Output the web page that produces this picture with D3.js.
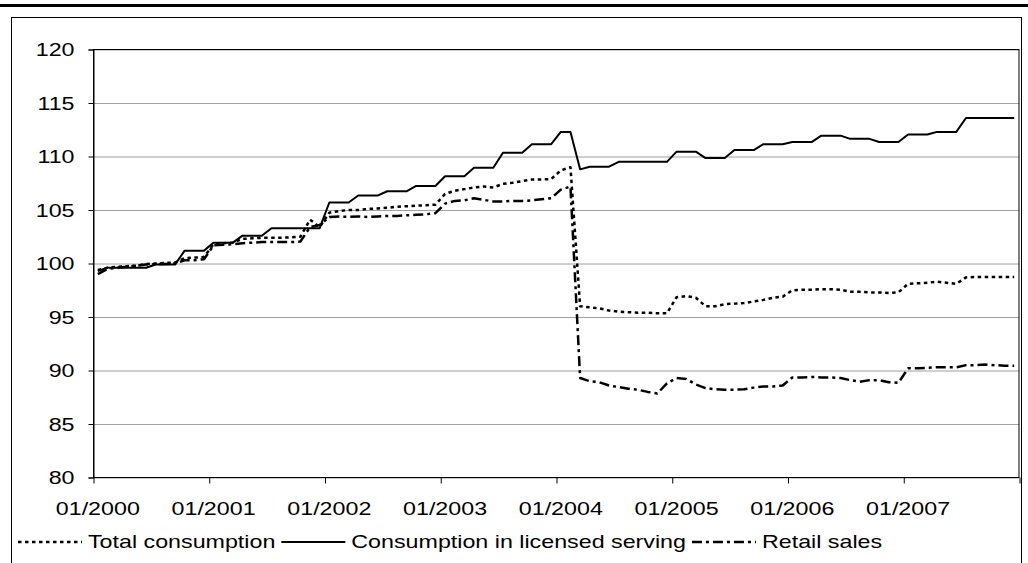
<!DOCTYPE html>
<html>
<head>
<meta charset="utf-8">
<script src="https://cdn.jsdelivr.net/npm/d3@7"></script>
<style>
  body { margin: 0; background: #fff; }
  svg { display: block; }
  text { font-family: "Liberation Sans", Arial, sans-serif; fill: #000; }
</style>
</head>
<body>
<svg id="chart" width="1028" height="563"></svg>
<script>
// monthly index values, 01/2000 .. 12/2007
var tickLabels = ["01/2000", "01/2001", "01/2002", "01/2003", "01/2004", "01/2005", "01/2006", "01/2007"];
var yTicks = [80, 85, 90, 95, 100, 105, 110, 115, 120];
var seriesNames = ["Total consumption", "Consumption in licensed serving", "Retail sales"];

var totalConsumption = [
  99.4, 99.6, 99.7, 99.75, 99.8, 99.95, 100.0, 100.05, 100.1, 100.5, 100.55, 100.6,
  101.8, 101.9, 101.95, 102.3, 102.35, 102.4, 102.4, 102.4, 102.45, 102.5, 104.1, 103.4,
  104.75, 104.9, 105.0, 105.0, 105.1, 105.15, 105.2, 105.3, 105.35, 105.4, 105.45, 105.5,
  106.5, 106.8, 106.95, 107.1, 107.2, 107.1, 107.45, 107.55, 107.7, 107.85, 107.85, 107.9,
  108.7, 109.0, 96.0, 95.9, 95.8, 95.6, 95.5, 95.45, 95.4, 95.4, 95.35, 95.35,
  96.85, 96.95, 96.8, 96.0, 96.0, 96.2, 96.25, 96.3, 96.45, 96.6, 96.8, 96.9,
  97.5, 97.55, 97.55, 97.6, 97.6, 97.55, 97.35, 97.35, 97.3, 97.3, 97.25, 97.3,
  98.1, 98.15, 98.2, 98.3, 98.2, 98.1, 98.7, 98.75, 98.75, 98.75, 98.75, 98.75
];
var licensedServing = [
  99.3, 99.6, 99.6, 99.6, 99.6, 99.6, 99.9, 99.9, 99.9, 101.2, 101.2, 101.2,
  101.95, 101.95, 101.95, 102.6, 102.6, 102.6, 103.3, 103.3, 103.3, 103.3, 103.3, 103.3,
  105.7, 105.7, 105.7, 106.35, 106.35, 106.35, 106.75, 106.75, 106.75, 107.25, 107.25, 107.25,
  108.15, 108.15, 108.15, 108.95, 108.95, 108.95, 110.35, 110.35, 110.35, 111.15, 111.15, 111.15,
  112.3, 112.3, 108.8, 109.05, 109.05, 109.05, 109.5, 109.5, 109.5, 109.5, 109.5, 109.5,
  110.45, 110.45, 110.45, 109.85, 109.85, 109.85, 110.6, 110.6, 110.6, 111.15, 111.15, 111.15,
  111.35, 111.35, 111.35, 111.95, 111.95, 111.95, 111.65, 111.65, 111.65, 111.35, 111.35, 111.35,
  112.05, 112.05, 112.05, 112.3, 112.3, 112.3, 113.6, 113.6, 113.6, 113.6, 113.6, 113.6
];
var retailSales = [
  99.0, 99.5, 99.6, 99.7, 99.8, 99.9, 99.95, 99.95, 100.0, 100.3, 100.3, 100.4,
  101.7, 101.75, 101.8, 101.9, 101.95, 102.0, 102.0, 102.0, 102.0, 102.05, 103.4, 103.6,
  104.35, 104.4, 104.35, 104.4, 104.35, 104.4, 104.45, 104.45, 104.5, 104.55, 104.6, 104.7,
  105.6, 105.85, 105.9, 106.1, 105.95, 105.8, 105.8, 105.85, 105.85, 105.9, 106.0, 106.1,
  106.9, 107.2, 89.3, 89.0, 88.9, 88.6, 88.45, 88.3, 88.2, 88.0, 87.85, 88.8,
  89.3, 89.2, 88.7, 88.35, 88.25, 88.2, 88.2, 88.25, 88.4, 88.5, 88.5, 88.6,
  89.35, 89.35, 89.4, 89.35, 89.35, 89.3, 89.1, 88.95, 89.1, 89.1, 88.9, 88.85,
  90.2, 90.2, 90.25, 90.3, 90.3, 90.3, 90.5, 90.5, 90.55, 90.5, 90.45, 90.45
];

var fontSize = 18.6;
var stretch = 1.25;  // the picture's text is wider than plain Arial

var plot = {left: 93, right: 1019, top: 49.5, bottom: 477.5};

var fmt = d3.timeFormat("%m/%Y");
var months = d3.timeMonths(new Date(2000, 0, 1), new Date(2008, 0, 1)).map(fmt);

var x = d3.scaleBand()
  .domain(months)
  .range([plot.left, plot.right]);

var y = d3.scaleLinear()
  .domain([80, 120])
  .range([plot.bottom, plot.top]);

var xc = d => x(d) + x.bandwidth() / 2;

var svg = d3.select('#chart');

// outer frame
svg.append('line')
  .attr('x1', 0).attr('x2', 1028)
  .attr('y1', 5.5).attr('y2', 5.5)
  .attr('stroke', '#000')
  .attr('stroke-width', 3);

svg.append('rect')
  .attr('x', 11.5).attr('y', 17.5)
  .attr('width', 1010).attr('height', 570)
  .attr('fill', 'none')
  .attr('stroke', '#000');

// gridlines
svg.append('g')
  .attr('transform', `translate(${plot.left},0)`)
  .call(d3.axisLeft(y).tickValues(yTicks).tickSize(-(plot.right - plot.left)).tickFormat(''))
  .call(g => g.select('.domain').remove())
  .call(g => g.selectAll('line').attr('stroke', '#a0a0a0'));

// plot border
svg.append('rect')
  .attr('x', plot.left + 0.5).attr('y', plot.top)
  .attr('width', plot.right - plot.left - 0.5).attr('height', plot.bottom - plot.top)
  .attr('fill', 'none')
  .attr('stroke', '#000');

// y axis ticks + labels
svg.append('g')
  .attr('transform', `translate(${plot.left + 0.5},0)`)
  .call(d3.axisLeft(y).tickValues(yTicks).tickSize(5).tickFormat(''))
  .call(g => g.select('.domain').attr('stroke', '#000'));

svg.append('g').selectAll('text')
  .data(yTicks)
  .enter().append('text')
    .attr('transform', d => `translate(74.5,${y(d)}) scale(${stretch},1)`)
    .attr('text-anchor', 'end')
    .attr('dy', '0.35em')
    .style('font-size', fontSize + 'px')
    .text(d => d);

// x axis: ticks on the year boundaries, labels centred on the january category
var yearEdges = d3.scaleLinear().domain([0, months.length]).range([plot.left, plot.right]);

svg.append('g')
  .attr('transform', `translate(0,${plot.bottom})`)
  .call(d3.axisBottom(yearEdges).tickValues(d3.range(0, months.length + 1, 12)).tickSize(6).tickFormat(''))
  .call(g => g.select('.domain').remove())
  .call(g => g.selectAll('line').attr('stroke', '#000').attr('transform', 'translate(0.5,0)'));

svg.append('g').selectAll('text')
  .data(tickLabels)
  .enter().append('text')
    .attr('transform', d => `translate(${xc(d)},515) scale(${stretch},1)`)
    .attr('text-anchor', 'middle')
    .style('font-size', fontSize + 'px')
    .text(d => d);

// lines
var series = [
  {name: seriesNames[0], values: totalConsumption, dash: '3.5,3.5', width: 2.5},
  {name: seriesNames[1], values: licensedServing, dash: null, width: 2},
  {name: seriesNames[2], values: retailSales, dash: '10,4,3,4', width: 2.5}
];

var line = d3.line()
  .x((d, i) => xc(months[i]))
  .y(d => y(d));

svg.append('g').selectAll('path')
  .data(series)
  .enter().append('path')
    .attr('fill', 'none')
    .attr('stroke', '#000')
    .attr('stroke-width', d => d.width)
    .attr('stroke-dasharray', d => d.dash)
    .attr('stroke-linejoin', 'round')
    .attr('d', d => line(d.values));

// legend
var lx = 18;
var ly = 548;
series.forEach(function(s) {
  svg.append('line')
    .attr('x1', lx).attr('x2', lx + 64)
    .attr('y1', ly - 6).attr('y2', ly - 6)
    .attr('stroke', '#000')
    .attr('stroke-width', s.width)
    .attr('stroke-dasharray', s.dash);
  var t = svg.append('text')
    .attr('transform', `translate(${lx + 70},${ly}) scale(${stretch},1)`)
    .style('font-size', fontSize + 'px')
    .text(s.name);
  lx += 70 + t.node().getComputedTextLength() * stretch + 6;
});
</script>
</body>
</html>
